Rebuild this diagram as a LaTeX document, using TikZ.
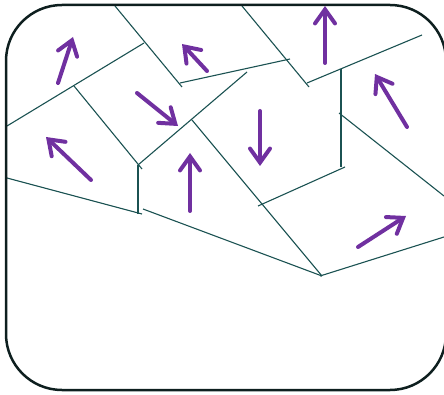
\documentclass[tikz,border=0pt]{standalone}
\usetikzlibrary{arrows.meta}
\definecolor{gb}{HTML}{1B5252}
\definecolor{fr}{HTML}{0E1F1F}
\definecolor{dom}{HTML}{7030A0}
\tikzset{
  grain/.style={draw=gb, line width=1.1pt},
  domarrow/.style={draw=dom, line width=4pt, line cap=round,
    -{Straight Barb[length=14pt,width=20pt,line cap=round]}},
  frame/.style={draw=fr, line width=2.5pt, rounded corners=56pt}
}
\begin{document}
\begin{tikzpicture}[x=1pt,y=-1pt]
\useasboundingbox (0,0) rectangle (444,395);
\clip (0,0) rectangle (444,395);
% grain boundaries
\draw[grain] (115,6) -- (182,87);
\draw[grain] (180,83) -- (290,59);
\draw[grain] (144,43) -- (7,126);
\draw[grain] (74,86) -- (142,169);
\draw[grain] (138,165) -- (247,72);
\draw[grain] (192,120) -- (322,276);
\draw[grain] (138,165) -- (138,214);
\draw[grain] (7,178) -- (142,214);
\draw[grain] (143,209) -- (322,276);
\draw[grain] (320,276) -- (444,237);
\draw[grain] (258,206) -- (345,167);
\draw[grain] (341,69) -- (341,167);
\draw[grain] (307,83) -- (422,35);
\draw[grain] (242,6) -- (309,87);
\draw[grain] (339,113) -- (444,196);
% domain arrows
\draw[domarrow] (58,83) -- (73,37);
\draw[domarrow] (207,71) -- (182,44);
\draw[domarrow] (137,93) -- (178,126);
\draw[domarrow] (91,180) -- (46,137);
\draw[domarrow] (190,211) -- (190,153);
\draw[domarrow] (325,63) -- (325,6);
\draw[domarrow] (260,111) -- (260,166);
\draw[domarrow] (407,127) -- (375,74);
\draw[domarrow] (358,247) -- (406,216);
% frame
\draw[frame] (6,5) rectangle (446,390);
\end{tikzpicture}
\end{document}
